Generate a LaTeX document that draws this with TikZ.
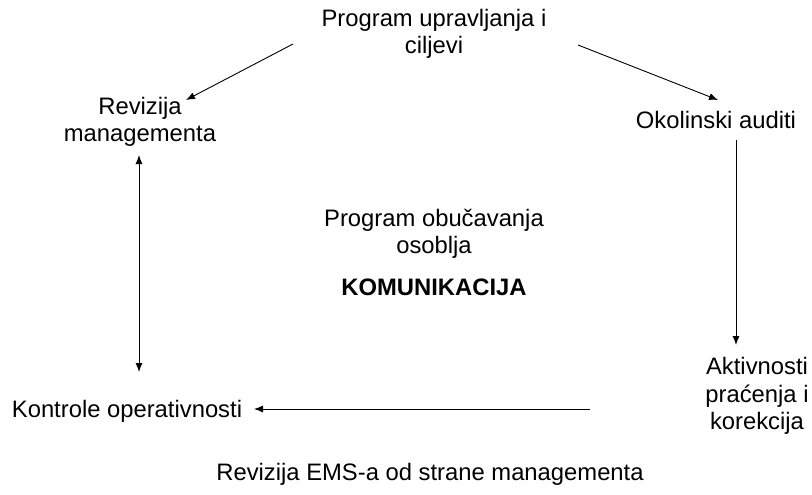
\documentclass[tikz,border=0pt]{standalone}
\usepackage{fontspec}
\setmainfont{Liberation Sans}
\usetikzlibrary{arrows.meta}
\begin{document}
\begin{tikzpicture}[x=1pt,y=-1pt,
  lbl/.style={align=center,inner sep=0pt,font=\fontsize{23.8}{27.5}\selectfont},
  arr/.style={draw,line width=0.9pt,-{Latex[length=9pt,width=7pt]}},
  darr/.style={draw,line width=0.9pt,{Latex[length=9pt,width=7pt]}-{Latex[length=9pt,width=7pt]}}]
\useasboundingbox (0,0) rectangle (812,495);
\node[lbl] (top) at (434,34) {Program upravljanja i\\ciljevi};
\node[lbl] (rev) at (140,122) {Revizija\\managementa};
\node[lbl] (oko) at (716,120) {Okolinski auditi};
\node[lbl] (obu) at (434,234) {Program obučavanja\\osoblja};
\node[lbl,font=\fontsize{23.8}{27.5}\selectfont\bfseries] (kom) at (434,287) {KOMUNIKACIJA};
\node[lbl] (akt) at (757,396) {Aktivnosti\\praćenja i\\korekcija};
\node[lbl] (kon) at (127,411) {Kontrole operativnosti};
\node[lbl] (ems) at (430,474) {Revizija EMS-a od strane managementa};
\coordinate (a1s) at (293,44);
\coordinate (a1e) at (186,100);
\coordinate (a2s) at (578,45);
\coordinate (a2e) at (718,100);
\coordinate (a3s) at (139,155);
\coordinate (a3e) at (139,372);
\coordinate (a4s) at (736,140);
\coordinate (a4e) at (736,345);
\coordinate (a5s) at (590,409);
\coordinate (a5e) at (254,409);
\draw[arr] (a1s) -- (a1e);
\draw[arr] (a2s) -- (a2e);
\draw[darr] (a3s) -- (a3e);
\draw[arr] (a4s) -- (a4e);
\draw[arr] (a5s) -- (a5e);
\end{tikzpicture}
\end{document}
